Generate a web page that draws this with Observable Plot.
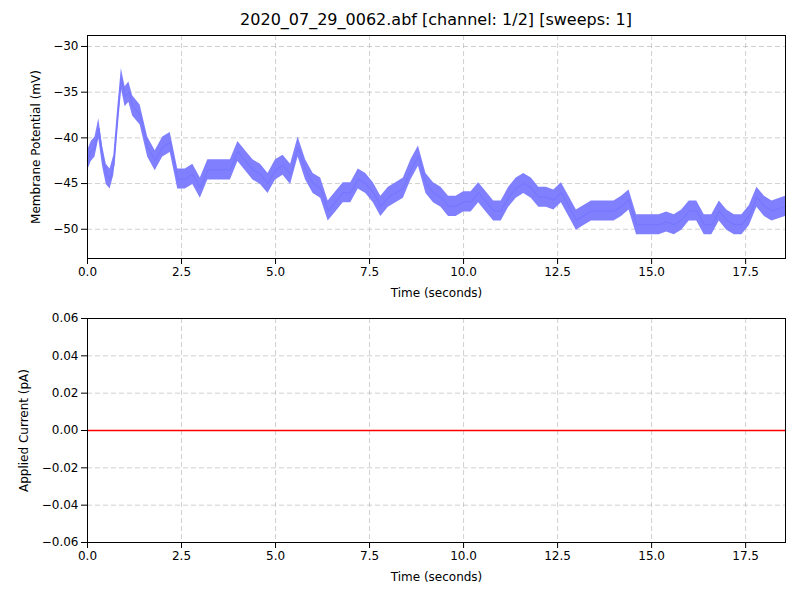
<!DOCTYPE html>
<html><head><meta charset="utf-8">
<script src="https://cdn.jsdelivr.net/npm/d3@7"></script>
<script src="https://cdn.jsdelivr.net/npm/@observablehq/plot@0.6"></script>
<style>
body{margin:0;background:#fff;font-family:"DejaVu Sans",sans-serif;}
#wrap{position:relative;width:800px;height:600px;}
#title{position:absolute;top:10px;left:87px;width:698px;text-align:center;font-size:16px;}
#topChart{position:absolute;top:0;left:0;}
#botChart{position:absolute;top:300px;left:0;}
</style></head><body>
<div id="wrap"><div id="topChart"></div><div id="botChart"></div><div id="title">2020_07_29_0062.abf [channel: 1/2] [sweeps: 1]</div></div>
<script>
// trace centre (mV), read every 0.2 s
const times = [0,0.1,0.2,0.3,0.4,0.5,0.6,0.7,0.8,0.9,1.0,1.1,1.2,1.4,1.6,1.8,2.0,2.2,2.4,2.6,2.8,3.0,3.2,3.4,3.6,3.8,4.0,4.2,4.4,4.6,4.8,5.0,5.2,5.4,5.6,5.8,6.0,6.2,6.4,6.6,6.8,7.0,7.2,7.4,7.6,7.8,8.0,8.2,8.4,8.6,8.8,9.0,9.2,9.4,9.6,9.8,10.0,10.2,10.4,10.6,10.8,11.0,11.2,11.4,11.6,11.8,12.0,12.2,12.4,12.6,12.8,13.0,13.2,13.4,13.6,13.8,14.0,14.2,14.4,14.6,14.8,15.0,15.2,15.4,15.6,15.8,16.0,16.2,16.4,16.6,16.8,17.0,17.2,17.4,17.6,17.8,18.0,18.2,18.56];
const vm = [-42.5,-41.5,-41,-39,-42,-44,-44.5,-43,-38,-33.5,-35.5,-35,-36.5,-37.5,-41,-42.5,-41,-40.5,-44.5,-44.5,-44,-45.5,-43.5,-43.5,-43.5,-43.5,-41.5,-42.5,-43.5,-44,-45,-43.5,-43,-44,-41,-43.5,-45,-45.5,-48,-47,-46,-46,-44.5,-45,-46,-47.5,-46.5,-46,-45.5,-43.5,-42,-45,-46,-46.5,-47.5,-47.5,-47,-47,-46,-47,-48,-48,-46.5,-45.5,-45,-45.5,-46.5,-46.5,-46.8,-46,-47.5,-49,-48.5,-48,-48,-48,-48,-47.5,-46.8,-49.5,-49.5,-49.5,-49.5,-49.2,-49.5,-49,-48,-48,-49.5,-49.5,-48,-49,-49.5,-49.5,-48.5,-46.5,-47.5,-48,-47.5];
const noise = 1.1;
const currT = [0, 18.56];
const currV = [0, 0];

const trace = times.map((t, i) => ({t, v: vm[i]}));
const cur = currT.map((t, i) => ({t, v: currV[i]}));
const xTicks = d3.range(0, 18, 2.5);
const fmtX = d3.format(".1f");
const style = {fontFamily: "DejaVu Sans", fontSize: "12px", color: "black"};
const grid = {stroke: "#b0b0b0", strokeOpacity: 0.6, strokeDasharray: "5,3"};

const chartTop = Plot.plot({
  width: 800, height: 300, marginTop: 35, marginBottom: 42, marginLeft: 87, marginRight: 15,
  style,
  x: {domain: [0, 18.56], ticks: xTicks, tickFormat: fmtX, label: "Time (seconds)", labelAnchor: "center", labelArrow: "none", labelOffset: 38},
  y: {domain: [-53.2, -28.8], ticks: [-50, -45, -40, -35, -30], label: "Membrane Potential (mV)", labelAnchor: "center", labelArrow: "none", labelOffset: 56},
  marks: [
    Plot.gridX(xTicks, grid),
    Plot.gridY([-50, -45, -40, -35, -30], grid),
    Plot.areaY(trace, {x: "t", y1: d => d.v - noise, y2: d => d.v + noise, fill: "#8080ff", curve: "linear"}),
    Plot.line(trace, {x: "t", y: "v", stroke: "#7878ff", strokeWidth: 1.5}),
    Plot.frame({stroke: "black"})
  ]
});
document.getElementById("topChart").append(chartTop);

const yB = [-0.06, -0.04, -0.02, 0, 0.02, 0.04, 0.06];
const chartBot = Plot.plot({
  width: 800, height: 300, marginTop: 18, marginBottom: 58, marginLeft: 87, marginRight: 15,
  style,
  x: {domain: [0, 18.56], ticks: xTicks, tickFormat: fmtX, label: "Time (seconds)", labelAnchor: "center", labelArrow: "none", labelOffset: 38},
  y: {domain: [-0.06, 0.06], ticks: yB, tickFormat: d => d3.format(".2f")(d).replace("-", "\u2212"), label: "Applied Current (pA)", labelAnchor: "center", labelArrow: "none", labelOffset: 68},
  marks: [
    Plot.gridX(xTicks, grid),
    Plot.gridY(yB, grid),
    Plot.line(cur, {x: "t", y: "v", stroke: "red", strokeWidth: 1.5}),
    Plot.frame({stroke: "black"})
  ]
});
document.getElementById("botChart").append(chartBot);
</script>
</body></html>
